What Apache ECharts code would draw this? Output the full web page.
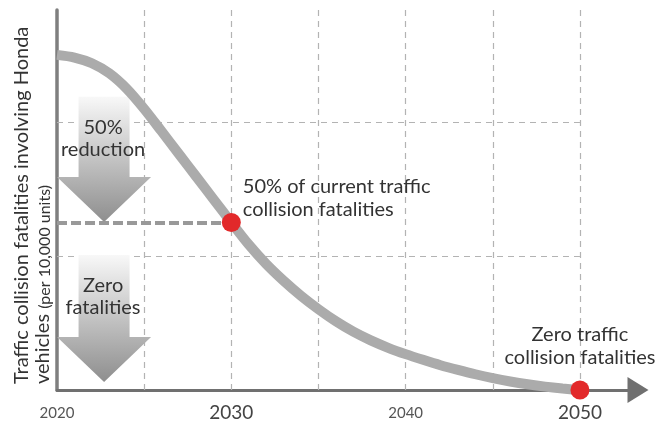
<!DOCTYPE html>
<html>
<head>
<meta charset="utf-8">
<script src="https://cdn.jsdelivr.net/npm/echarts@6/dist/echarts.min.js"></script>
<style>
html,body{margin:0;padding:0;background:#fff;}
#c{width:662px;height:423px;}
</style>
</head>
<body>
<div id="c"></div>
<script>
// ---- data ----
const years = [2020,2021,2022,2023,2024,2025,2026,2027,2028,2029,2030,2031,2032,2033,2034,2035,2036,2037,2038,2039,2040,2041,2042,2043,2044,2045,2046,2047,2048,2049,2050];
const fatalities = [100,99.2,97.5,94.5,89.9,83.9,77.2,70.4,63.6,56.8,50,43.4,37.6,32.6,28.1,24.1,20.5,17.4,14.8,12.6,10.7,9.0,7.4,6.0,4.7,3.55,2.55,1.7,1.0,0.45,0];
const milestoneYears = [2030, 2050];
const milestoneValues = [50, 0];
const milestoneLabels = ['50% of current traffic\ncollision fatalities', 'Zero traffic\ncollision fatalities'];
const gridYears = [2025, 2030, 2035, 2040, 2045, 2050];
const gridLevels = [40, 80];
const smallTickLabels = ['2020', '2040'];
const bigTickLabels = ['2030', '2050'];
const arrowYear = [2022.7, 2022.7];
const arrowTop = [87.5, 40.3];
const arrowTip = [50.1, 2.4];
const arrowLabels = ['50%\nreduction', 'Zero\nfatalities'];
const yTitle1 = 'Traffic collision fatalities involving Honda';
const yTitle2a = 'vehicles ';
const yTitle2b = '(per 10,000 units)';

const FONT = 'Lato';
const chart = echarts.init(document.getElementById('c'));

const gridMarks = gridYears.map(y => ({ xAxis: y }));
gridLevels.forEach(v => gridMarks.push([{ coord: [2020, v] }, { coord: [2050, v] }]));

const option = {
  animation: false,
  backgroundColor: '#ffffff',
  grid: { left: 57, right: 24, top: 10, bottom: 33 },
  xAxis: {
    type: 'value', min: 2020, max: 2053.33, interval: 5,
    axisLine: { show: true, symbol: ['none', 'triangle'], symbolSize: [26, 21], lineStyle: { color: '#707070', width: 3 } },
    axisTick: { show: false },
    splitLine: { show: false },
    axisLabel: {
      margin: 11,
      formatter: function (v) {
        const s = String(v);
        if (smallTickLabels.indexOf(s) >= 0) return '{s|' + s + '}';
        if (bigTickLabels.indexOf(s) >= 0) return '{b|' + s + '}';
        return '';
      },
      rich: {
        s: { fontSize: 15, fontFamily: FONT, color: '#555', lineHeight: 24 },
        b: { fontSize: 19, fontFamily: FONT, color: '#444', lineHeight: 24 }
      }
    }
  },
  yAxis: {
    type: 'value', min: 0, max: 113.4,
    axisLine: { show: true, lineStyle: { color: '#7f7f7f', width: 3.5 } },
    axisTick: { show: false }, axisLabel: { show: false }, splitLine: { show: false }
  },
  graphic: [
    { type: 'text', x: 22, y: 384, rotation: Math.PI / 2,
      style: { text: yTitle1, fontSize: 20, fontFamily: FONT, fill: '#333', align: 'left', verticalAlign: 'middle' } },
    { type: 'text', x: 43, y: 384, rotation: Math.PI / 2,
      style: { text: '{a|' + yTitle2a + '}{b|' + yTitle2b + '}', fontFamily: FONT, fill: '#333', align: 'left', verticalAlign: 'middle',
        rich: { a: { fontSize: 20, fontFamily: FONT, fill: '#333', verticalAlign: 'bottom' }, b: { fontSize: 16, fontFamily: FONT, fill: '#333', verticalAlign: 'bottom' } } } }
  ],
  series: [
    {
      type: 'line', data: [], z: 1, silent: true,
      markLine: {
        silent: true, symbol: 'none', label: { show: false }, emphasis: { disabled: true }, z: 1,
        lineStyle: { color: '#b3b3b3', width: 1.2, type: [6, 5] },
        data: gridMarks
      }
    },
    {
      type: 'custom', z: 2, silent: true,
      data: arrowYear.map((y, i) => [y, arrowTop[i], arrowTip[i]]),
      renderItem: function (params, api) {
        const pT = api.coord([api.value(0), api.value(1)]);
        const pB = api.coord([api.value(0), api.value(2)]);
        const cx = pT[0], yT = pT[1], yB = pB[1];
        const head = 45, sw = 25.5, hw = 47;
        return {
          type: 'group',
          children: [
            { type: 'polygon',
              shape: { points: [[cx - sw, yT], [cx + sw, yT], [cx + sw, yB - head], [cx + hw, yB - head], [cx, yB], [cx - hw, yB - head], [cx - sw, yB - head]] },
              style: { fill: new echarts.graphic.LinearGradient(0, 0, 0, 1, [{ offset: 0, color: '#f8f8f8' }, { offset: 1, color: '#8e8e8e' }]) } },
            { type: 'text', x: cx - 1, y: yT + 42,
              style: { text: arrowLabels[params.dataIndex], fontSize: 20, fontFamily: FONT, fill: '#333', align: 'center', verticalAlign: 'middle', lineHeight: 22 } }
          ]
        };
      }
    },
    {
      type: 'line', z: 3, silent: true,
      data: years.map((y, i) => [y, fatalities[i]]),
      smooth: 0.3, showSymbol: false, symbol: 'none',
      lineStyle: { color: '#ababab', width: 10 }
    },
    {
      type: 'scatter', z: 5, silent: true,
      symbolSize: 19,
      itemStyle: { color: '#e2292a', opacity: 1 },
      label: {
        show: true, fontSize: 20, fontFamily: FONT, color: '#333', lineHeight: 23,
        formatter: function (p) { return milestoneLabels[p.dataIndex]; }
      },
      markLine: {
        silent: true, symbol: 'none', label: { show: false }, z: 4,
        lineStyle: { color: '#999', width: 4, type: [10, 4] },
        data: [[{ coord: [2020, milestoneValues[0]] }, { coord: [milestoneYears[0], milestoneValues[0]] }]]
      },
      data: milestoneYears.map((y, i) => ({
        value: [y, milestoneValues[i]],
        label: i === 0
          ? { position: 'right', distance: 2, offset: [0, -24.5], align: 'left' }
          : { position: 'top', distance: 11, align: 'center' }
      }))
    }
  ]
};
chart.setOption(option);
</script>
</body>
</html>
